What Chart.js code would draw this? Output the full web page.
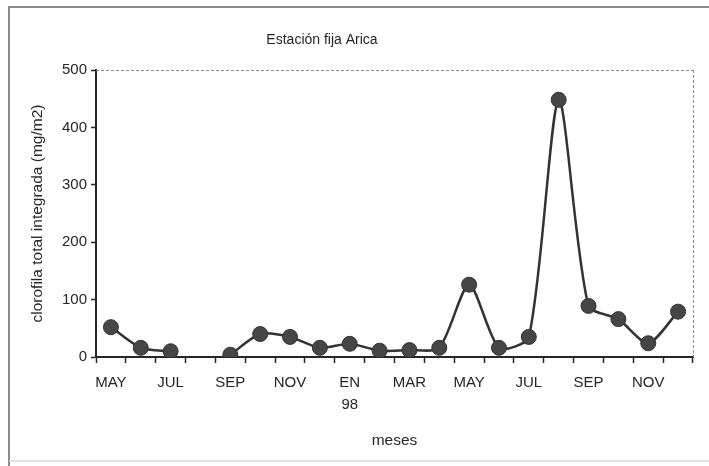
<!DOCTYPE html>
<html>
<head>
<meta charset="utf-8">
<script src="https://cdn.jsdelivr.net/npm/chart.js@4"></script>
<style>
  html, body { margin: 0; padding: 0; background: #fff; }
  canvas { display: block; }
</style>
</head>
<body>
<canvas id="aricaChart" width="709" height="466"></canvas>
<script>
// meses, mayo 1997 - diciembre 1998 (agosto 97 sin dato)
const months = ['MAY', 'JUN', 'JUL', 'AGO', 'SEP', 'OCT', 'NOV', 'DIC',
  'EN 98', 'FEB', 'MAR', 'ABR', 'MAY', 'JUN', 'JUL', 'AGO', 'SEP', 'OCT', 'NOV', 'DIC'];
const tickLabels = ['MAY', '', 'JUL', '', 'SEP', '', 'NOV', '',
  ['EN', '98'], '', 'MAR', '', 'MAY', '', 'JUL', '', 'SEP', '', 'NOV', ''];
const clorofila = [52, 16, 10, null, 4, 40, 35, 16, 23, 11, 12, 16, 126, 16, 35, 448, 89, 66, 24, 79];
const yTicks = [0, 100, 200, 300, 400, 500];

const FONT = "'Liberation Sans', Arial, sans-serif";
const INK = '#262626';

// marco exterior, borde del área y título
const framePlugin = {
  id: 'frame',
  beforeDraw(chart) {
    const ctx = chart.ctx;
    ctx.save();
    ctx.strokeStyle = '#8a8a8a';
    ctx.lineWidth = 2;
    ctx.beginPath();
    ctx.moveTo(9, 466);
    ctx.lineTo(9, 7);
    ctx.lineTo(709, 7);
    ctx.stroke();
    ctx.strokeStyle = '#d8d8d8';
    ctx.lineWidth = 1.5;
    ctx.beginPath();
    ctx.moveTo(9, 461);
    ctx.lineTo(709, 461);
    ctx.stroke();
    ctx.restore();
  },
  afterDraw(chart) {
    const {ctx, chartArea: a} = chart;
    ctx.save();
    ctx.strokeStyle = '#8c8c8c';
    ctx.lineWidth = 1;
    ctx.setLineDash([3, 2]);
    ctx.beginPath();
    ctx.moveTo(a.left, a.top + 0.5);
    ctx.lineTo(a.right, a.top + 0.5);
    ctx.moveTo(a.right + 0.5, a.top);
    ctx.lineTo(a.right + 0.5, a.bottom);
    ctx.stroke();
    ctx.setLineDash([]);
    ctx.fillStyle = INK;
    ctx.font = '14px ' + FONT;
    ctx.textAlign = 'center';
    ctx.textBaseline = 'middle';
    ctx.fillText('Estación fija Arica', 322, 40);
    ctx.restore();
  }
};

new Chart(document.getElementById('aricaChart'), {
  type: 'line',
  data: {
    labels: months,
    datasets: [{
      data: clorofila,
      borderColor: '#333',
      borderWidth: 2.5,
      backgroundColor: '#454545',
      pointBackgroundColor: '#464646',
      pointBorderColor: '#333',
      pointBorderWidth: 1,
      pointRadius: 7.5,
      tension: 0.25,
      spanGaps: false,
    }]
  },
  options: {
    responsive: false,
    animation: false,
    layout: { padding: { top: 70, right: 16, left: 0, bottom: 0 } },
    plugins: {
      legend: { display: false },
      tooltip: { enabled: false },
    },
    scales: {
      x: {
        offset: true,
        afterFit: (s) => { s.height = 109; },
        grid: {
          offset: true,
          drawOnChartArea: false,
          drawTicks: true,
          tickLength: 6,
          tickColor: INK,
          tickWidth: 1.5,
        },
        border: { color: INK, width: 2 },
        ticks: {
          autoSkip: false,
          maxRotation: 0,
          padding: 9,
          color: INK,
          font: { family: FONT, size: 15, lineHeight: 1.45 },
          callback: (v, i) => tickLabels[i],
        },
        title: {
          display: true,
          text: 'meses',
          color: INK,
          font: { family: FONT, size: 15.5 },
          padding: 16,
        }
      },
      y: {
        min: 0,
        max: 500,
        afterFit: (s) => { s.width = 96; },
        afterBuildTicks: (s) => { s.ticks = yTicks.map(v => ({ value: v })); },
        grid: {
          drawOnChartArea: false,
          drawTicks: true,
          tickLength: 5,
          tickColor: INK,
          tickWidth: 1.5,
        },
        border: { color: INK, width: 2 },
        ticks: {
          padding: 4,
          color: INK,
          font: { family: FONT, size: 15 },
        },
        title: {
          display: true,
          text: 'clorofila total integrada (mg/m2)',
          color: INK,
          font: { family: FONT, size: 15.5 },
          padding: 28,
        }
      }
    }
  },
  plugins: [framePlugin]
});
</script>
</body>
</html>
